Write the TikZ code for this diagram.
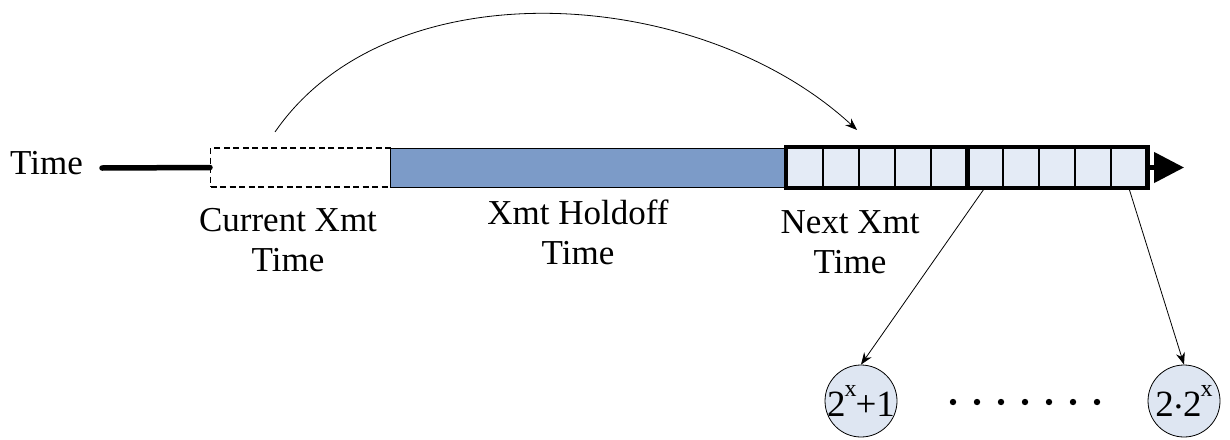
\documentclass[tikz,border=0pt]{standalone}
\usepackage{fontspec}
\setmainfont{Liberation Serif}
\usetikzlibrary{arrows.meta}
\definecolor{holdblue}{RGB}{124,155,200}
\definecolor{slotfill}{RGB}{228,235,246}
\definecolor{ballfill}{RGB}{222,230,242}
\newcommand{\supx}{\raisebox{0.55em}{\fontsize{24}{24}\selectfont x}}
\begin{document}
\begin{tikzpicture}[x=1pt,y=-1pt,
  lbl/.style={font=\fontsize{35}{40}\selectfont, align=center, inner sep=0pt},
  seg/.style={minimum height=39pt, inner sep=0pt, anchor=west},
  slot/.style={seg, draw, line width=1.6pt, fill=slotfill, minimum width=36pt},
  ball/.style={circle, draw, line width=0.8pt, fill=ballfill, minimum size=72pt, inner sep=0pt, font=\fontsize{37}{40}\selectfont},
  link/.style={line width=0.8pt, -{Stealth[length=12pt,width=9pt]}}]
\useasboundingbox (0,0) rectangle (1230,439);

% time axis label and lead-in
\node[lbl, anchor=west] (tlabel) at (10,163) {Time};
\coordinate (t0) at (102,168);

% current transmission slot (dashed) and holdoff interval
\node[seg, draw, dash pattern=on 6pt off 3.5pt, line width=1.2pt, minimum width=180pt] (cur) at (210,167.5) {};
\node[seg, draw, line width=1pt, fill=holdblue, minimum width=396pt] (hold) at (390,167.5) {};

% next transmission window: ten slots
\foreach \i in {1,...,10}{
  \node[slot] (s\i) at ({786+36*(\i-1)},167.5) {};
}
\draw[line width=4.5pt] (s1.north west) rectangle (s10.south east);
\draw[line width=4.5pt] (s5.north east) -- (s5.south east);

\draw[line width=5.5pt, line cap=round] (t0) -- (cur.west);
\coordinate (tend) at (1184,167.5);
\draw[line width=4.5pt, -{Triangle[length=30pt,width=30pt]}] (s10.east) -- (tend);

% jump from the current slot to the next window
\coordinate (jfrom) at (275,132);
\coordinate (jto) at (857,130);
\draw[link] (jfrom) .. controls (390,-35) and (700,-15) .. (jto);

% interval captions
\node[lbl] (lcur) at (288,240) {Current Xmt\\Time};
\node[lbl] (lhold) at (578,232) {Xmt Holdoff\\Time};
\node[lbl] (lnext) at (850,242) {Next Xmt\\Time};

% slot indices
\node[ball] (b1) at (861,401) {\kern-2pt 2\kern-1pt\supx\kern-1pt+1\kern-2pt};
\node[ball] (b2) at (1184,401) {\kern-2pt 2\raisebox{0.22em}{\fontsize{37}{40}\selectfont.}2\kern-1pt\supx\kern-2pt};
\draw[link] (s6.south) -- (b1.north);
\draw[link] (s10.south) -- (b2.north);

\foreach \k in {0,...,6}{
  \fill ({953+24*\k},402) circle (3.2pt);
}
\end{tikzpicture}
\end{document}
